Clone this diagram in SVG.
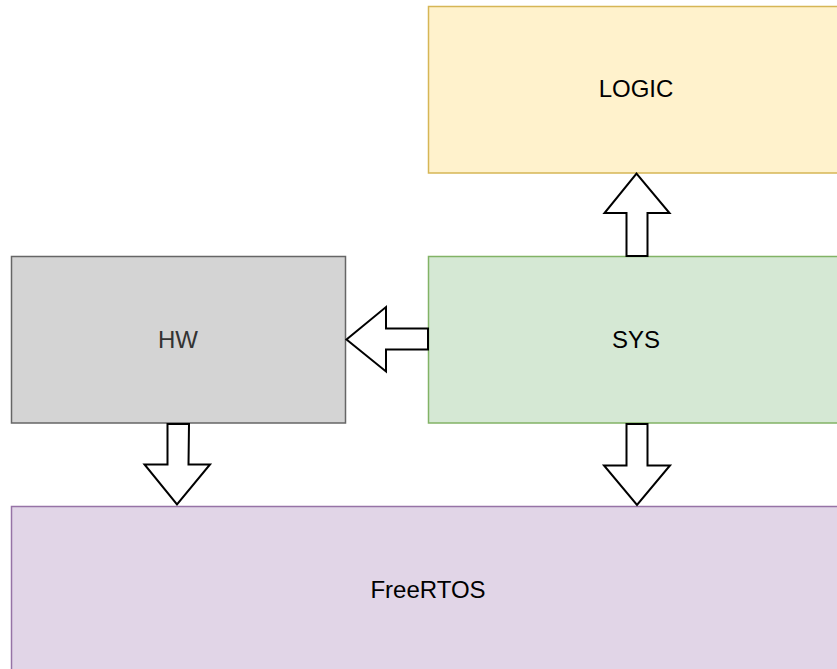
<svg xmlns="http://www.w3.org/2000/svg" width="837" height="669" viewBox="0 0 837 669">
<style>
.lbl{font-family:"Liberation Sans",Arial,Helvetica,sans-serif;font-size:24px;text-anchor:middle;fill:#000}
.box{stroke-width:1.5}
.arrow{fill:#fff;stroke:#000;stroke-width:2;stroke-linejoin:miter}
</style>
<rect width="837" height="669" fill="#fff"/>
<g id="logic">
<rect class="box" x="428.5" y="6.5" width="415" height="166.5" fill="#fff2cc" stroke="#d6b656"/>
<text class="lbl" x="636" y="97">LOGIC</text>
</g>
<g id="sys">
<rect class="box" x="428.5" y="256.5" width="415" height="166.5" fill="#d5e8d4" stroke="#82b366"/>
<text class="lbl" x="636" y="347.5">SYS</text>
</g>
<g id="hw">
<rect class="box" x="11.5" y="256.5" width="334" height="166.5" fill="#d4d4d4" stroke="#666666"/>
<text class="lbl" x="178" y="347.5" style="fill:#333333">HW</text>
</g>
<g id="freertos">
<rect class="box" x="11.5" y="506.5" width="833" height="170" fill="#e1d5e7" stroke="#9673a6"/>
<text class="lbl" x="428" y="598">FreeRTOS</text>
</g>
<g id="connectors">
<path class="arrow" d="M626.5,256 L626.5,213 L604.5,213 L636.5,173.5 L669.5,213 L647.5,213 L647.5,256 Z"/>
<path class="arrow" d="M428,328.5 L386,328.5 L386,307 L346.5,339.5 L386,371.5 L386,349.5 L428,349.5 Z"/>
<path class="arrow" d="M167.5,424 L167.5,464.5 L144.5,464.5 L177,504.5 L210,464.5 L188.5,464.5 L189,424 Z"/>
<path class="arrow" d="M626.5,424 L626.5,465.5 L604,465.5 L637,505 L670,465.5 L647.5,465.5 L647.5,424 Z"/>
</g>
</svg>
